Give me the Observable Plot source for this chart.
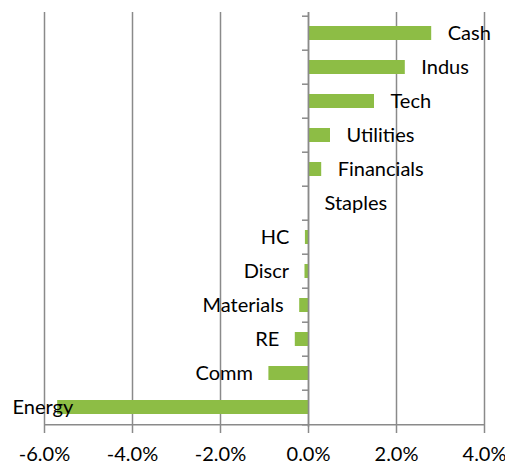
<!DOCTYPE html>
<html>
<head>
<meta charset="utf-8">
<script src="https://cdn.jsdelivr.net/npm/d3@7"></script>
<script src="https://cdn.jsdelivr.net/npm/@observablehq/plot@0.6"></script>
<style>
  html, body { margin: 0; padding: 0; background: white; }
</style>
</head>
<body>
<div id="chart"></div>
<script>
const categories = ["Cash","Indus","Tech","Utilities","Financials","Staples","HC","Discr","Materials","RE","Comm","Energy"];
const values = [2.8, 2.2, 1.5, 0.5, 0.3, 0, -0.07, -0.08, -0.2, -0.3, -0.9, -5.7];
const tickValues = [-6, -4, -2, 0, 2, 4];

const data = categories.map((c, i) => ({category: c, value: values[i]}));
const W = 505, H = 468, mT = 12, mB = 41, mL = 44, mR = 21;
const bw = (H - mT - mB) / categories.length;
const grey = "#8a8a8a";
const green = "#8dbd45";
const font = "Lato, 'Open Sans', sans-serif";
const fs = 20;

const pos = data.filter(d => d.value >= 0);
const neg = data.filter(d => d.value < 0 && d.category !== "Energy");
const edge = data.filter(d => d.category === "Energy");

const chart = Plot.plot({
  width: W, height: H,
  marginTop: mT, marginBottom: mB, marginLeft: mL, marginRight: mR,
  x: {domain: [tickValues[0], tickValues[tickValues.length - 1]], label: null},
  y: {domain: categories, paddingInner: 0.6, paddingOuter: 0.3, axis: null},
  style: {fontFamily: font, fontSize: fs + "px", color: "#000", background: "white", overflow: "visible"},
  marks: [
    Plot.gridX(tickValues, {stroke: grey, strokeOpacity: 1, strokeWidth: 1.5}),
    Plot.barX(data, {x: "value", y: "category", fill: green}),
    // x axis line at bottom of plot
    Plot.ruleY([categories[categories.length - 1]], {x1: tickValues[0], x2: tickValues[tickValues.length - 1], dy: bw / 2, stroke: grey, strokeWidth: 1.5}),
    // vertical axis at zero
    Plot.ruleX([0], {stroke: grey, strokeWidth: 1.5}),
    // category boundary ticks on vertical axis
    Plot.ruleY(categories, {x1: 0, x2: 0, insetLeft: -6, dy: -bw / 2, stroke: grey, strokeWidth: 1.5}),
    Plot.ruleY([categories[categories.length - 1]], {x1: 0, x2: 0, insetLeft: -6, dy: bw / 2, stroke: grey, strokeWidth: 1.5}),
    Plot.axisX(tickValues, {
      tickFormat: d => d.toFixed(1) + "%",
      tickSize: 6, tickPadding: 13, stroke: grey, strokeWidth: 1.5,
      fontSize: fs, fill: "#000", label: null
    }),
    Plot.text(pos, {
      x: "value", y: "category", text: "category",
      textAnchor: "start", dx: 16, fill: "#000", fontSize: fs
    }),
    Plot.text(neg, {
      x: "value", y: "category", text: "category",
      textAnchor: "end", dx: -16, fill: "#000", fontSize: fs
    }),
    Plot.text(edge, {
      frameAnchor: "left", y: "category", text: "category",
      textAnchor: "start", dx: -32, fill: "#000", fontSize: fs
    })
  ]
});
document.getElementById("chart").appendChild(chart);
</script>
</body>
</html>
